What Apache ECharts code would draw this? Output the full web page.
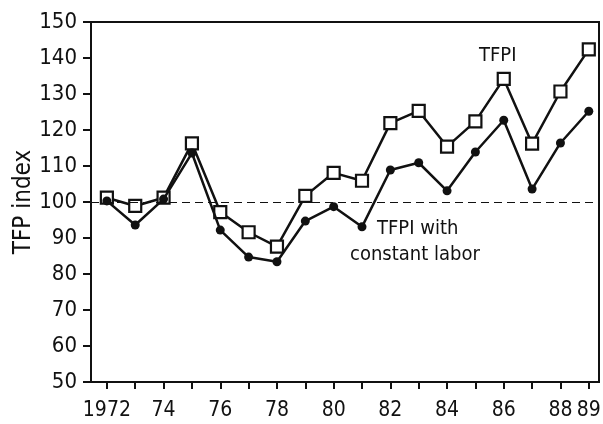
<!DOCTYPE html>
<html>
<head>
<meta charset="utf-8">
<script src="https://cdn.jsdelivr.net/npm/echarts@6/dist/echarts.min.js"></script>
<style>
  html, body { margin: 0; padding: 0; background: #fff; }
  #main { width: 603px; height: 424px; }
</style>
</head>
<body>
<div id="main"></div>
<script>
const years = [1972, 1973, 1974, 1975, 1976, 1977, 1978, 1979, 1980,
  1981, 1982, 1983, 1984, 1985, 1986, 1987, 1988, 1989];
const tfpi = [101.2, 98.9, 101.2, 116.3, 97.2, 91.6, 87.6, 101.7, 108.1,
  105.9, 121.9, 125.3, 115.4, 122.4, 134.2, 116.2, 130.7, 142.4];
const tfpiConstLabor = [100.3, 93.6, 100.8, 113.6, 92.2, 84.7, 83.4, 94.7, 98.7,
  93.1, 108.9, 110.9, 103.1, 113.9, 122.7, 103.6, 116.4, 125.2];
const labelYears = [1972, 1974, 1976, 1978, 1980, 1982, 1984, 1986, 1988, 1989];

const font = '"DejaVu Sans Condensed", "Liberation Sans", sans-serif';
const ink = '#111';

const pair = (vals) => years.map((y, i) => [y, vals[i]]);

const option = {
  animation: false,
  backgroundColor: '#fff',
  grid: {
    left: 91, right: 4, top: 22, bottom: 42,
    outerBoundsMode: 'none',
    show: true, borderColor: ink, borderWidth: 2
  },
  xAxis: {
    type: 'value',
    min: 1971.44,
    max: 1989.36,
    splitLine: { show: false },
    axisLine: { show: true, lineStyle: { color: ink, width: 2 } },
    axisTick: {
      show: true, length: 7, inside: false,
      customValues: years,
      lineStyle: { color: ink, width: 2 }
    },
    axisLabel: {
      customValues: labelYears,
      margin: 18,
      color: ink,
      fontFamily: font,
      fontSize: 21,
      formatter: (v) => v === 1972 ? '1972' : String(v).slice(2)
    }
  },
  yAxis: {
    type: 'value',
    min: 50,
    max: 150,
    interval: 10,
    name: 'TFP index',
    nameLocation: 'middle',
    nameGap: 55,
    nameMoveOverlap: false,
    nameTextStyle: { color: ink, fontFamily: font, fontSize: 24 },
    splitLine: { show: false },
    axisLine: { show: true, lineStyle: { color: ink, width: 2 } },
    axisTick: { show: true, length: 8, lineStyle: { color: ink, width: 2 } },
    axisLabel: {
      margin: 14,
      color: ink,
      fontFamily: font,
      fontSize: 22
    }
  },
  series: [
    {
      name: 'TFPI',
      type: 'line',
      data: pair(tfpi),
      symbol: 'rect',
      symbolSize: 12,
      lineStyle: { color: ink, width: 2.5 },
      itemStyle: { color: '#fff', borderColor: ink, borderWidth: 2.2 },
      markLine: {
        silent: true,
        symbol: 'none',
        label: { show: false },
        lineStyle: { color: ink, width: 1, type: [8, 5] },
        data: [{ yAxis: 100 }]
      },
      z: 2
    },
    {
      name: 'TFPI with constant labor',
      type: 'line',
      data: pair(tfpiConstLabor),
      symbol: 'circle',
      symbolSize: 9,
      lineStyle: { color: ink, width: 2.5 },
      itemStyle: { color: ink },
      z: 3
    }
  ],
  graphic: [
    {
      type: 'text', left: 479, top: 46,
      style: { text: 'TFPI', fill: ink, font: '20px ' + font }
    },
    {
      type: 'text', left: 377, top: 219,
      style: { text: 'TFPI with', fill: ink, font: '20px ' + font }
    },
    {
      type: 'text', left: 350, top: 245,
      style: { text: 'constant labor', fill: ink, font: '20px ' + font }
    }
  ]
};

echarts.init(document.getElementById('main')).setOption(option);
</script>
</body>
</html>
